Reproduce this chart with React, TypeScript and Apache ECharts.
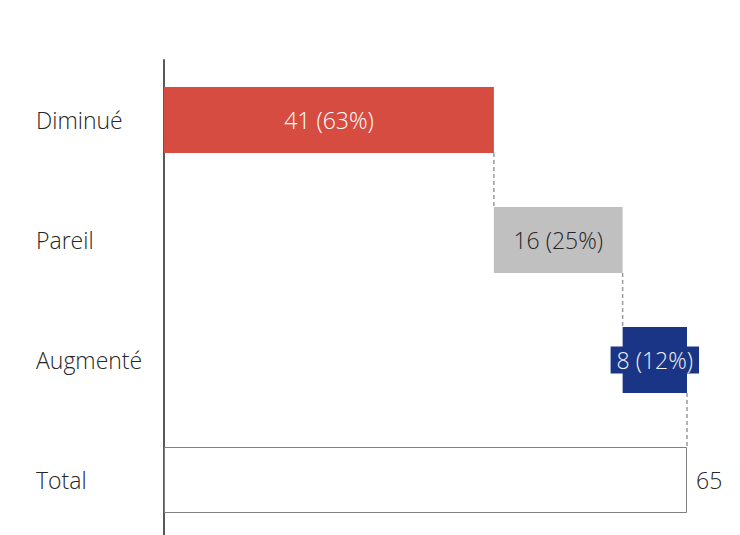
import React, { useEffect, useRef } from "react";
import * as echarts from "echarts";

const categories = ["Diminué", "Pareil", "Augmenté", "Total"];
const counts = [41, 16, 8];
const percents = [63, 25, 12];
const total = 65;
const barColors = ["#d64c41", "#c0c0c0", "#1b3586"];
const labelColors = ["#ffffff", "#262626", "#f2f2f2"];

export default function App() {
  const ref = useRef<HTMLDivElement>(null);
  useEffect(() => {
    document.body.style.margin = "0";
    document.body.style.overflow = "hidden";
    const chart = echarts.init(ref.current!, undefined, { renderer: "svg" });

    const bases: number[] = [];
    let acc = 0;
    counts.forEach((c) => {
      bases.push(acc);
      acc += c;
    });
    const ends = counts.map((c, i) => bases[i] + c);

    const font = "Open Sans";
    const fs = 23;
    const valueData = counts.map((c, i) => {
      const item: any = {
        value: c,
        itemStyle: { color: barColors[i] },
        label: {
          show: true,
          position: "inside",
          formatter: `${c} (${percents[i]}%)`,
          color: labelColors[i],
          fontFamily: font,
          fontSize: fs,
          fontWeight: 300,
        },
      };
      if (i === 2) {
        item.label.backgroundColor = barColors[i];
        item.label.padding = [2, 6, 2, 6];
      }
      return item;
    });

    chart.setOption({
      animation: false,
      grid: { left: 164, right: 53, top: 60, bottom: 5 },
      xAxis: { type: "value", min: 0, max: total, show: false },
      yAxis: {
        type: "category",
        data: categories,
        inverse: true,
        axisLine: { show: true, lineStyle: { color: "#595959", width: 2 } },
        axisTick: { show: false },
        axisLabel: {
          align: "left",
          margin: 128,
          color: "#262626",
          fontFamily: font,
          fontSize: fs,
          fontWeight: 300,
        },
        splitLine: { show: false },
      },
      series: [
        {
          type: "bar",
          stack: "w",
          barWidth: 66,
          silent: true,
          itemStyle: { color: "transparent" },
          data: [...bases, 0],
        },
        {
          type: "bar",
          stack: "w",
          barWidth: 66,
          data: [
            ...valueData,
            {
              value: total,
              itemStyle: { color: "#ffffff", borderColor: "#808080", borderWidth: 1 },
              label: {
                show: true,
                position: "right",
                distance: 9,
                formatter: `${total}`,
                color: "#262626",
                fontFamily: font,
                fontSize: fs,
                fontWeight: 300,
              },
            },
          ],
        },
        {
          type: "custom",
          silent: true,
          data: ends.map((e, i) => [e, i]),
          renderItem: (params: any, api: any) => {
            const v = api.value(0);
            const idx = api.value(1);
            const p1 = api.coord([v, idx]);
            const p2 = api.coord([v, idx + 1]);
            const half = 33;
            return {
              type: "line",
              shape: { x1: p1[0], y1: p1[1] + half, x2: p2[0], y2: p2[1] - half },
              style: { stroke: "#9a9a9a", lineWidth: 1.5, lineDash: [4, 3] },
            };
          },
          z: 1,
        },
      ],
    });
    return () => chart.dispose();
  }, []);
  return <div ref={ref} style={{ width: 740, height: 545 }} />;
}
